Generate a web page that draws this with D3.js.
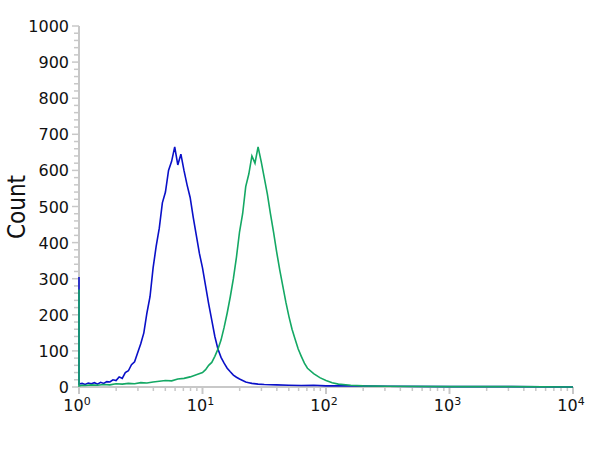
<!DOCTYPE html>
<html>
<head>
<meta charset="utf-8">
<script src="https://d3js.org/d3.v7.min.js"></script>
<style>body{margin:0;background:#fff}</style>
</head>
<body>
<script>
// log10 of channel value
var blueLog = [0,0,0.025,0.05,0.075,0.1,0.125,0.15,0.175,0.2,0.225,0.25,0.275,0.3,0.325,0.35,0.375,0.4,0.425,0.45,0.475,0.5,0.525,0.55,0.575,0.6,0.625,0.65,0.675,0.7,0.725,0.75,0.775,0.8,0.825,0.85,0.875,0.9,0.925,0.95,0.975,1.0,1.025,1.05,1.075,1.1,1.125,1.15,1.175,1.2,1.225,1.25,1.275,1.3,1.325,1.35,1.375,1.4,1.45,1.5,1.6,1.7,1.8,1.9,2.0,2.2,2.5,3,3.5,4];
var blueCount = [305,8,10,7,11,9,12,8,13,10,15,14,20,18,28,24,40,45,62,70,95,120,150,205,250,330,390,440,510,540,600,625,665,615,645,600,560,525,470,420,370,330,280,230,185,140,105,82,66,52,42,33,27,22,18,14,12,10,8,7,6,5,4,5,3,3,2,1,1,0];
var greenLog = [0,0,0.025,0.05,0.1,0.15,0.2,0.25,0.3,0.35,0.4,0.45,0.5,0.55,0.6,0.65,0.7,0.75,0.8,0.85,0.9,0.95,1.0,1.025,1.05,1.075,1.1,1.125,1.15,1.175,1.2,1.225,1.25,1.275,1.3,1.325,1.35,1.375,1.4,1.425,1.45,1.475,1.5,1.525,1.55,1.575,1.6,1.625,1.65,1.675,1.7,1.725,1.75,1.775,1.8,1.825,1.85,1.9,1.95,2.0,2.05,2.1,2.2,2.3,2.5,3,3.5,4];
var greenCount = [270,3,5,4,6,5,7,6,9,8,10,9,12,11,14,16,18,17,22,24,28,34,40,48,60,68,85,105,130,165,205,250,300,360,430,480,555,590,640,620,665,625,580,535,480,430,375,325,280,235,195,160,132,105,85,66,52,37,26,18,12,8,5,3,2,1,1,0];
var yTicks = [0,100,200,300,400,500,600,700,800,900,1000];
var xTicks = [1,10,100,1000,10000];
var xTickExp = ["0","1","2","3","4"];

var W = 600, H = 450;
var svg = d3.select("body").append("svg").attr("width", W).attr("height", H);
var x = d3.scaleLog().domain([1, 10000]).range([79, 573]);
var y = d3.scaleLinear().domain([0, 1000]).range([387, 26]);
var axisColor = "#c8c8c8";

// y axis
svg.append("line").attr("x1", 79).attr("x2", 79).attr("y1", y(1000)).attr("y2", y(0))
  .attr("stroke", axisColor).attr("stroke-width", 2);
svg.selectAll(".ym").data(d3.range(0, 1001, 20)).enter().append("line")
  .attr("x1", function(d){ return d % 100 == 0 ? 72 : 74; }).attr("x2", 79)
  .attr("y1", function(d){ return y(d); }).attr("y2", function(d){ return y(d); })
  .attr("stroke", axisColor).attr("stroke-width", 1.5);
svg.selectAll(".yl").data(yTicks).enter().append("text")
  .attr("x", 69).attr("y", function(d){ return y(d) + 6; })
  .attr("text-anchor", "end").attr("font-family", "DejaVu Sans").attr("font-size", 16)
  .attr("fill", "#111").text(function(d){ return d; });

// x axis
svg.append("line").attr("x1", x(1)).attr("x2", x(10000)).attr("y1", 387).attr("y2", 387)
  .attr("stroke", axisColor).attr("stroke-width", 2);
var minor = [];
[1,10,100,1000].forEach(function(d){ for (var k = 2; k <= 9; k++) minor.push(d * k); });
svg.selectAll(".xm").data(minor).enter().append("line")
  .attr("x1", function(d){ return x(d); }).attr("x2", function(d){ return x(d); })
  .attr("y1", 387).attr("y2", 391).attr("stroke", axisColor).attr("stroke-width", 1.5);
svg.selectAll(".xM").data(xTicks).enter().append("line")
  .attr("x1", function(d){ return x(d); }).attr("x2", function(d){ return x(d); })
  .attr("y1", 387).attr("y2", 394).attr("stroke", axisColor).attr("stroke-width", 2);
var xl = svg.selectAll(".xl").data(xTicks).enter().append("text")
  .attr("x", function(d){ return x(d) - 2; }).attr("y", 411)
  .attr("text-anchor", "middle").attr("font-family", "DejaVu Sans").attr("font-size", 16).attr("fill", "#111");
xl.append("tspan").text("10");
xl.append("tspan").attr("dy", -6).attr("font-size", 11).text(function(d, i){ return xTickExp[i]; });

svg.append("text").attr("transform", "translate(25,207) rotate(-90)")
  .attr("text-anchor", "middle").attr("font-family", "Liberation Sans Narrow, DejaVu Sans Condensed").attr("font-size", 24)
  .attr("fill", "#111").text("Count");

var line = d3.line().x(function(d){ return x(Math.pow(10, d[0])); }).y(function(d){ return y(d[1]); });
svg.append("path").datum(d3.zip(blueLog, blueCount)).attr("d", line)
  .attr("fill", "none").attr("stroke", "#0a10c8").attr("stroke-width", 1.6);
svg.append("path").datum(d3.zip(greenLog, greenCount)).attr("d", line)
  .attr("fill", "none").attr("stroke", "#14a864").attr("stroke-width", 1.6);
</script>
</body>
</html>
